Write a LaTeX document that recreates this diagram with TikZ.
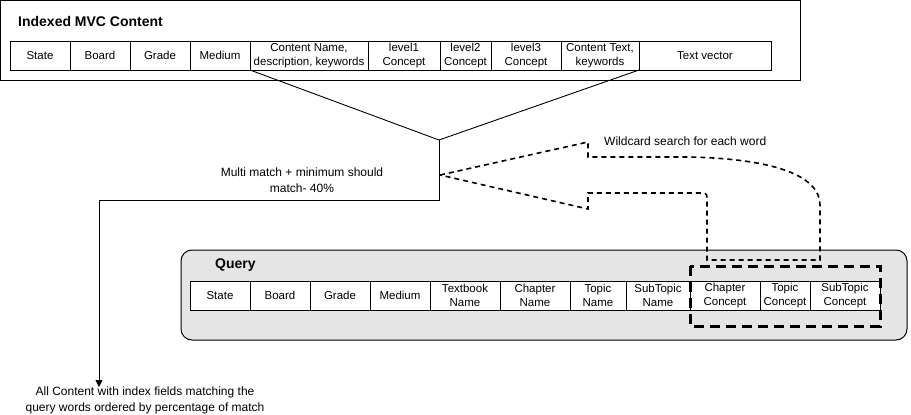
\documentclass[tikz,border=0pt]{standalone}
\usepackage{fontspec}
\setmainfont{Liberation Sans}
\usetikzlibrary{arrows.meta,positioning}
\newcommand{\cellfont}{\fontsize{11.5}{14}\selectfont}
\newcommand{\notefont}{\fontsize{12}{15.5}\selectfont}
\newcommand{\headfont}{\fontsize{14}{16}\selectfont\bfseries}

\begin{document}
\begin{tikzpicture}[x=1pt, y=-1pt,
    cell/.style={draw, line width=1pt, fill=white, align=center, inner sep=0pt, outer sep=0pt,
      minimum height=29pt, anchor=north west, font=\cellfont},
    frame/.style={draw, line width=1pt, inner sep=0pt, outer sep=0pt, anchor=north west},
    heading/.style={anchor=west, inner sep=0pt, font=\headfont},
    note/.style={align=center, inner sep=0pt, font=\notefont},
    link/.style={line width=0.9pt},
    wild/.style={line width=1.6pt, dash pattern=on 5pt off 4pt},
    selbox/.style={line width=3pt, dash pattern=on 10pt off 6pt}]
  \useasboundingbox (0,0) rectangle (911,415);

  % indexed content
  \node[frame, minimum width=800pt, minimum height=80pt] (mvc) at (0.5,0.5) {};
  \node[heading] (mvcTitle) at (18,21) {Indexed MVC Content};
  \node[cell, minimum width=60pt] (mState) at (10,41) {State};
  \node[cell, minimum width=60pt, right=0pt of mState] (mBoard) {Board};
  \node[cell, minimum width=60pt, right=0pt of mBoard] (mGrade) {Grade};
  \node[cell, minimum width=60pt, right=0pt of mGrade] (mMedium) {Medium};
  \node[cell, minimum width=118pt, right=0pt of mMedium] (mName) {Content Name,\\description, keywords};
  \node[cell, minimum width=72pt, right=0pt of mName] (mLevelA) {level1\\Concept};
  \node[cell, minimum width=51pt, right=0pt of mLevelA] (mLevelB) {level2\\Concept};
  \node[cell, minimum width=70pt, right=0pt of mLevelB] (mLevelC) {level3\\Concept};
  \node[cell, minimum width=78pt, right=0pt of mLevelC] (mText) {Content Text,\\keywords};
  \node[cell, minimum width=132pt, right=0pt of mText] (mVector) {Text vector};

  % query
  \node[frame, fill=black!10, rounded corners=11pt, minimum width=726pt, minimum height=90pt] (query) at (181,250) {};
  \node[heading] (queryTitle) at (215,265) {Query};
  \node[cell, minimum width=60pt] (qState) at (190,281) {State};
  \node[cell, minimum width=60pt, right=0pt of qState] (qBoard) {Board};
  \node[cell, minimum width=60pt, right=0pt of qBoard] (qGrade) {Grade};
  \node[cell, minimum width=60pt, right=0pt of qGrade] (qMedium) {Medium};
  \node[cell, minimum width=70pt, right=0pt of qMedium] (qBook) {Textbook\\Name};
  \node[cell, minimum width=70pt, right=0pt of qBook] (qChapter) {Chapter\\Name};
  \node[cell, minimum width=56pt, right=0pt of qChapter] (qTopic) {Topic\\Name};
  \node[cell, minimum width=64pt, right=0pt of qTopic] (qSubTopic) {SubTopic\\Name};
  \node[cell, minimum width=70pt, right=0pt of qSubTopic] (qChapterC) {Chapter\\Concept};
  \node[cell, minimum width=50pt, right=0pt of qChapterC] (qTopicC) {Topic\\Concept};
  \node[cell, minimum width=70pt, right=0pt of qTopicC] (qSubTopicC) {SubTopic\\Concept};
  \draw[selbox] (690,266) rectangle (880,326);

  % matching
  \coordinate (apex) at (439,140);
  \coordinate (turn) at (99,200);
  \draw[link] (mName.south west) -- (apex) -- (mText.south east);
  \node[note] (multi) at (302,180) {Multi match + minimum should\\match- 40\%};
  \node[note, anchor=north] (result) at (145,387) {All Content with index fields matching the\\query words ordered by percentage of match};
  \draw[link, -{Triangle[length=7pt, width=7pt]}] (apex) |- (turn) -- (result.north -| turn);

  % wildcard arrow
  \draw[wild] (440,175) -- (588,142) -- (588,157) -- (690,157)
    .. controls (775,159) and (820,176) .. (820,205) -- (820,260) -- (707,260) -- (707,199)
    .. controls (707,194) .. (702,193) -- (588,193) -- (588,209) -- cycle;
  \node[note, anchor=west] (wildcard) at (604,141) {Wildcard search for each word};
\end{tikzpicture}
\end{document}
